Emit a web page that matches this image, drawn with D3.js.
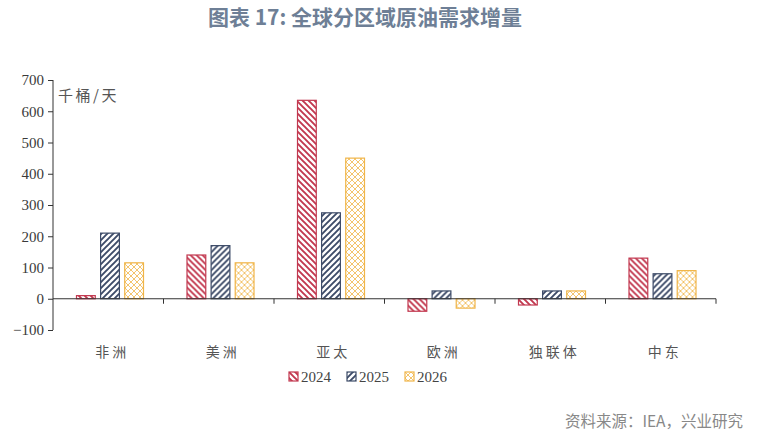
<!DOCTYPE html>
<html>
<head>
<meta charset="utf-8">
<script src="https://cdn.jsdelivr.net/npm/d3@7/dist/d3.min.js"></script>
<style>
  body { margin: 0; background: #fff; }
  svg { display: block; }
</style>
</head>
<body>
<svg class="canvas" width="764" height="434"></svg>
<script>
var regions = ['非洲', '美洲', '亚太', '欧洲', '独联体', '中东'];
var years = ['2024', '2025', '2026'];
var v2024 = [10, 140, 635, -40, -20, 130];
var v2025 = [210, 170, 275, 25, 25, 80];
var v2026 = [115, 115, 450, -30, 25, 90];
var yTicks = [-100, 0, 100, 200, 300, 400, 500, 600, 700];

var series = [v2024, v2025, v2026];
var colors = ['#c2384f', '#3d4b68', '#f0b548'];
var patterns = ['p2024', 'p2025', 'p2026'];

var svg = d3.select('.canvas');
var margin = { left: 53, right: 48, top: 80, bottom: 104 };
var width = 764 - margin.left - margin.right;

var x = d3.scaleBand().domain(regions).range([margin.left, margin.left + width]);
var x1 = d3.scaleBand().domain(years).range([23, 91]).paddingInner(0.18);
var y = d3.scaleLinear().domain([-100, 700]).range([330, 80]);

// PATTERNS
var defs = svg.append('defs');
function hatch(id, color, dir) {
	var p = defs.append('pattern')
		.attr('id', id)
		.attr('patternUnits', 'userSpaceOnUse')
		.attr('width', 6).attr('height', 6);
	p.append('rect').attr('width', 6).attr('height', 6).attr('fill', '#fff');
	if (dir === 'down') {
		p.append('path').attr('d', 'M-1,-1 L7,7 M-4,2 L4,10 M2,-4 L10,4')
			.attr('stroke', color).attr('stroke-width', 1.9);
	} else if (dir === 'up') {
		p.append('path').attr('d', 'M-1,7 L7,-1 M-4,4 L4,-4 M2,10 L10,2')
			.attr('stroke', color).attr('stroke-width', 1.9);
	} else {
		p.append('path').attr('d', 'M-1,-1 L7,7 M-4,2 L4,10 M2,-4 L10,4 M-1,7 L7,-1 M-4,4 L4,-4 M2,10 L10,2')
			.attr('stroke', color).attr('stroke-width', 0.8);
	}
}
hatch('p2024', colors[0], 'down');
hatch('p2025', colors[1], 'up');
hatch('p2026', colors[2], 'cross');

// TITLE
svg.append('text')
	.attr('x', 365).attr('y', 25)
	.attr('text-anchor', 'middle')
	.attr('font-family', '"Noto Sans CJK SC", sans-serif')
	.attr('font-weight', 'bold')
	.attr('font-size', 21)
	.attr('fill', '#6e7f96')
	.text('图表 17: 全球分区域原油需求增量');

// BARS
var groups = svg.append('g').selectAll('g')
	.data(regions)
	.enter().append('g')
	.attr('transform', function(d) { return 'translate(' + x(d) + ',0)'; });

groups.selectAll('rect')
	.data(function(d, i) {
		return years.map(function(yr, k) { return { year: yr, k: k, value: series[k][i] }; });
	})
	.enter().append('rect')
	.attr('x', function(d) { return x1(d.year) + 0.5; })
	.attr('width', x1.bandwidth() - 1)
	.attr('y', function(d) { return y(Math.max(0, d.value)); })
	.attr('height', function(d) { return Math.abs(y(d.value) - y(0)); })
	.attr('fill', function(d) { return 'url(#' + patterns[d.k] + ')'; })
	.attr('stroke', function(d) { return colors[d.k]; })
	.attr('stroke-width', 1.2);

// Y AXIS
var yAxis = svg.append('g')
	.attr('transform', 'translate(' + margin.left + ',0)')
	.call(d3.axisLeft(y).tickValues(yTicks).tickSize(5).tickPadding(4));
yAxis.select('.domain').attr('stroke', '#333').attr('d', 'M0,' + y(700) + 'V' + y(-100));
yAxis.selectAll('.tick line').attr('stroke', '#333');
yAxis.selectAll('.tick text')
	.attr('font-family', '"Liberation Serif", serif')
	.attr('font-size', 15)
	.attr('fill', '#3a3a3a');

// X AXIS
var xAxis = svg.append('g')
	.attr('transform', 'translate(0,' + y(0) + ')');
xAxis.append('line')
	.attr('x1', margin.left).attr('x2', margin.left + width)
	.attr('stroke', '#333');
xAxis.selectAll('.xt')
	.data(regions)
	.enter().append('line')
	.attr('x1', function(d) { return x(d) + x.bandwidth(); })
	.attr('x2', function(d) { return x(d) + x.bandwidth(); })
	.attr('y1', 0).attr('y2', 5)
	.attr('stroke', '#333');

svg.append('g').selectAll('text')
	.data(regions)
	.enter().append('text')
	.attr('x', function(d) { return x(d) + x.bandwidth() / 2 + 4; })
	.attr('y', 357)
	.attr('text-anchor', 'middle')
	.attr('font-family', '"Noto Sans CJK SC", sans-serif')
	.attr('font-size', 14)
	.attr('letter-spacing', 3)
	.attr('fill', '#555')
	.text(function(d) { return d; });

// UNIT
svg.append('text')
	.attr('x', 58).attr('y', 101)
	.attr('font-family', '"Noto Sans CJK SC", sans-serif')
	.attr('font-size', 15)
	.attr('letter-spacing', 2.5)
	.attr('fill', '#555')
	.text('千桶/天');

// LEGEND
var legend = svg.append('g').selectAll('g')
	.data(years)
	.enter().append('g')
	.attr('transform', function(d, i) { return 'translate(' + (289 + i * 58) + ',372)'; });
legend.append('rect')
	.attr('width', 9).attr('height', 9)
	.attr('fill', function(d, i) { return 'url(#' + patterns[i] + ')'; })
	.attr('stroke', function(d, i) { return colors[i]; })
	.attr('stroke-width', 1.2);
legend.append('text')
	.attr('x', 12).attr('y', 10)
	.attr('font-family', '"Liberation Serif", serif')
	.attr('font-size', 15)
	.attr('fill', '#444')
	.text(function(d) { return d; });

// SOURCE
svg.append('text')
	.attr('x', 743).attr('y', 427)
	.attr('text-anchor', 'end')
	.attr('font-family', '"Noto Sans CJK SC", sans-serif')
	.attr('font-size', 15.5)
	.attr('fill', '#888')
	.text('资料来源：IEA，兴业研究');
</script>
</body>
</html>
